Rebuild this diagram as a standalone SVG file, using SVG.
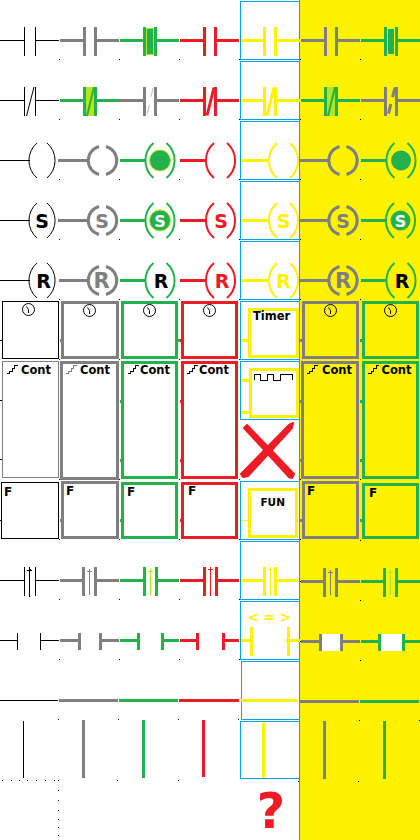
<svg xmlns="http://www.w3.org/2000/svg" xmlns:xlink="http://www.w3.org/1999/xlink" width="420" height="840" viewBox="0 0 420 840">
<style>
.k,.v,.g,.r,.y,.kv{fill:none}
.k{stroke:#000;stroke-width:1}
.kv{stroke:#7f7f7f;stroke-width:1}
.v{stroke:#7f7f7f;stroke-width:3}
.g{stroke:#22b14c;stroke-width:3}
.r{stroke:#ed1c24;stroke-width:3}
.y{stroke:#fff200;stroke-width:3}
.lb{fill:none;stroke:#00a2e8;stroke-width:1;shape-rendering:crispEdges}
.c{shape-rendering:crispEdges}
.n2{stroke-width:2}
.n1{stroke-width:1}
.w{fill:#fff;stroke:none}
.lg{fill:#b5e61d;stroke:none}
text{font-family:"DejaVu Sans","Liberation Sans",sans-serif;font-weight:700}
.cs{font-size:19px;text-anchor:middle}
.cl{font-size:21px;text-anchor:middle}
.lb1{font-size:11.5px;fill:#000}
.lbf{font-size:12px;fill:#000}
.clk{fill:none;stroke:#000;stroke-width:1}
</style>
<defs>
<path id="coilK" d="M-5-17.5A23 23 0 0 0-5 17.5M5-17.5A23 23 0 0 1 5 17.5"/>
<path id="coilC" d="M-6.5-17.5A23 23 0 0 0-6.5 17.5M6.5-17.5A23 23 0 0 1 6.5 17.5"/>
<path id="coilV" d="M-3.5-14A14.5 14.5 0 0 0-3.5 14M3.5-14A14.5 14.5 0 0 1 3.5 14"/>
<g id="clock" class="clk"><circle r="6"/><path d="M-2-3L0 0V3.5"/></g>
<path id="step" d="M0 8H3V5.5H5.5V3H8V0H11"/>
</defs>

<rect id="yellow-panel" x="300" y="0" width="120" height="840" fill="#fff200"/>

<g id="palette-frames">
<rect class="lb" x="240.5" y="1.5" width="59" height="58"/>
<rect class="lb" x="240.5" y="61.5" width="59" height="58"/>
<rect class="lb" x="240.5" y="121.5" width="59" height="58"/>
<rect class="lb" x="240.5" y="181.5" width="59" height="58"/>
<rect class="lb" x="240.5" y="241.5" width="59" height="58"/>
<rect class="lb" x="240.5" y="301.5" width="59" height="58"/>
<rect class="lb" x="240.5" y="361.5" width="59" height="58"/>
<rect class="lb" x="240.5" y="481.5" width="59" height="58"/>
<rect class="lb" x="240.5" y="541.5" width="59" height="58"/>
<rect class="lb" x="240.5" y="601.5" width="59" height="58"/>
<rect class="lb" x="241.5" y="661.5" width="58" height="58"/>
<rect class="lb" x="240.5" y="721.5" width="59" height="57"/>
<path class="lb" d="M299.5 0V840"/>
</g>

<g id="connectors" class="c">
<path class="k" d="M0 40.5H25M36 40.5H59M0 100.5H25M36 100.5H59M0 160.5H30M0 220.5H30M0 280.5H30M0 340.5H2M0 400.5H2M0 459.5H2M0 520.5H1M0 580.5H25M36 580.5H59M0 640.5H17M41 640.5H59M0 700.5H58"/>
<path class="v" d="M60 40.5H83M97 40.5H119M118 100.5H143M157 100.5H179M58 160.5H88M58 220.5H88M59 280.5H88M60 340.5H62M60 401.5H62M60 460.5H62M60 520.5H62M60 580.5H82M97 580.5H119M60 640.5H78M102 640.5H119M59 700.5H118"/>
<path class="g" d="M120 40.5H143M157 40.5H179M60 100.5H83M97 100.5H118M120 160.5H146M120 220.5H146M120 280.5H146M120 401.5H122M120 460.5H122M120 520.5H122M178 340.5H181M120 580.5H143M158 580.5H179M120 640.5H137M164 640.5H179M119 700.5H178"/>
<path class="r" d="M180 40.5H203M217 40.5H239M180 100.5H203M217 100.5H239M180 160.5H206M180 220.5H206M180 280.5H206M180 340.5H182M180 401.5H182M180 460.5H182M180 520.5H182M180 580.5H203M218 580.5H239M180 640.5H196M225 640.5H239M179 700.5H239"/>
<path class="y" d="M241 40.5H263M277 40.5H300M241 100.5H263M277 100.5H300M241 160.5H270M241 220.5H270M241 280.5H270M241 340.5H248M241 380.5H249M241 412.5H249M241 580.5H263M277 580.5H298M241 640.5H250M286 640.5H300M241 700.5H298"/>
<path class="y n1" d="M241 520.5H248"/>
<path class="v" d="M301 40.5H324M338 40.5H360M361 100.5H384M398 100.5H420M300 160.5H329M300 220.5H329M300 280.5H329M300 340.5H303M300 401.5H302M300 460.5H302M300 520.5H302M301 581.5H323M338 581.5H360M301 641.5H319M343 641.5H360M300 701.5H359"/>
<path class="g" d="M361 40.5H384M398 40.5H420M301 100.5H324M338 100.5H360M361 160.5H387M361 220.5H387M361 280.5H387M360 340.5H363M360 401.5H363M360 460.5H363M360 520.5H363M361 581.5H383M398 581.5H420M361 641.5H378M405 641.5H420M360 701.5H419"/>
</g>

<g id="row-contact-no">
<g id="no-black" class="k c"><path d="M24.5 27V56M35.5 27V56"/></g>
<g id="no-gray" class="v c"><path d="M84.5 27V56M95.5 27V56"/></g>
<g id="no-green" class="g c"><path d="M144.5 27V56M155.5 27V56"/><rect x="146.5" y="28.5" width="7" height="26" fill="#22b14c" stroke="#b5e61d" stroke-width="1"/></g>
<g id="no-red" class="r c"><path d="M204.5 27V56M215.5 27V56"/></g>
<g id="no-yellow" class="y c"><path d="M264.5 27V56M275.5 27V56"/></g>
<g id="no-gray-y" class="v c"><path d="M325.5 27V56M336.5 27V56"/></g>
<g id="no-green-y" class="g c"><path d="M385.5 27V56M396.5 27V56"/><rect x="388" y="29" width="6" height="25" fill="#22b14c" stroke="none"/></g>
</g>

<g id="row-contact-nc">
<g id="nc-black" class="k"><path class="c" d="M24.5 87V116M35.5 87V116"/><path d="M34 87L26.5 116"/></g>
<g id="nc-green" class="g"><rect class="lg c" x="85" y="87" width="11" height="29"/><path class="c" d="M84.5 87V116M95.5 87V116"/><path class="n2" d="M94 87L87 116"/></g>
<g id="nc-gray" class="v"><path class="c" d="M144.5 87V116M155.5 87V116"/><path stroke="#bdbdbd" stroke-width="1" stroke-dasharray="9 8" d="M153 88L147 115"/></g>
<g id="nc-red" class="r"><path class="c" d="M204.5 87V116M215.5 87V116"/><path d="M214 87.5L207 115.5"/></g>
<g id="nc-yellow" class="y"><path class="c" d="M264.5 87V116M275.5 87V116"/><path d="M274 87.5L267 115.5"/></g>
<g id="nc-green-y" class="g"><rect class="lg c" x="326" y="87" width="11" height="29"/><path class="c" d="M325.5 87V116M336.5 87V116"/><path class="n2" d="M335 87L328 116"/></g>
<g id="nc-gray-y" class="v"><path class="c" d="M385.5 87V116M396.5 87V116"/><path stroke-dasharray="10 7" d="M395 87.5L388 115.5"/></g>
</g>

<g id="row-coil">
<use id="coil-black" class="k" href="#coilK" x="42" y="160.5"/>
<use id="coil-gray" class="v" href="#coilV" x="102.5" y="160.5"/>
<g id="coil-green"><use class="g n2" href="#coilC" x="160" y="160.5"/><circle cx="160" cy="160.5" r="10.5" fill="#22b14c" stroke="#b5e61d"/></g>
<use id="coil-red" class="r n2" href="#coilC" x="220.5" y="160.5"/>
<use id="coil-yellow" class="y n2" href="#coilC" x="283.5" y="160.5"/>
<use id="coil-gray-y" class="v" href="#coilV" x="343" y="160.5"/>
<g id="coil-green-y"><use class="g n2" href="#coilC" x="401" y="160.5"/><circle cx="401" cy="160.5" r="10" fill="#22b14c"/></g>
</g>

<g id="row-set">
<g id="set-black"><use class="k" href="#coilK" x="42" y="220.5"/><text class="cs" x="42" y="227.5" fill="#000">S</text></g>
<g id="set-gray"><use class="v" href="#coilV" x="102.5" y="220.5"/><text class="cs" x="102" y="227.5" fill="#7f7f7f">S</text></g>
<g id="set-green"><use class="g n2" href="#coilC" x="160" y="220.5"/><circle cx="160" cy="220.5" r="10.5" fill="#22b14c" stroke="#b5e61d"/><text class="cs" x="160" y="226.5" fill="#fff" font-size="17" style="font-size:16px">S</text></g>
<g id="set-red"><use class="r n2" href="#coilC" x="220.5" y="220.5"/><text class="cs" x="221" y="227.5" fill="#ed1c24">S</text></g>
<g id="set-yellow"><use class="y n2" href="#coilC" x="283.5" y="220.5"/><text class="cs" x="283.5" y="227.5" fill="#fff200">S</text></g>
<g id="set-gray-y"><use class="v" href="#coilV" x="343" y="220.5"/><text class="cs" x="343" y="227.5" fill="#7f7f7f">S</text></g>
<g id="set-green-y"><use class="g n2" href="#coilC" x="400.5" y="220.5"/><circle cx="400.5" cy="220.5" r="10" fill="#22b14c"/><text class="cs" x="400.5" y="226.5" fill="#fff" style="font-size:16px">S</text></g>
</g>

<g id="row-reset">
<g id="reset-black"><use class="k" href="#coilK" x="42" y="280.5"/><text class="cs" x="43.5" y="287.5" fill="#000">R</text></g>
<g id="reset-gray"><use class="v" href="#coilV" x="102.5" y="280.5"/><text class="cl" x="101.5" y="288" fill="#7f7f7f">R</text></g>
<g id="reset-green"><use class="g n2" href="#coilC" x="160" y="280.5"/><text class="cs" x="161" y="287.5" fill="#000">R</text></g>
<g id="reset-red"><use class="r n2" href="#coilC" x="220.5" y="280.5"/><text class="cs" x="222" y="287.5" fill="#ed1c24">R</text></g>
<g id="reset-yellow"><use class="y n2" href="#coilC" x="283.5" y="280.5"/><text class="cs" x="283.5" y="287.5" fill="#fff200">R</text></g>
<g id="reset-gray-y"><use class="v" href="#coilV" x="343" y="280.5"/><text class="cl" x="343" y="288" fill="#7f7f7f">R</text></g>
<g id="reset-green-y"><use class="g n2" href="#coilC" x="401" y="280.5"/><text class="cs" x="402" y="287.5" fill="#000">R</text></g>
</g>

<g id="row-timer">
<g id="timer-black"><rect class="k c" x="2.5" y="301.5" width="56" height="57"/><use href="#clock" x="28.5" y="309.5"/></g>
<g id="timer-gray"><rect class="v c" x="62.5" y="302.5" width="55" height="55"/><use href="#clock" x="89.5" y="310.5"/></g>
<g id="timer-green"><rect class="g c" x="122.5" y="302.5" width="54" height="55"/><use href="#clock" x="149.5" y="310.5"/></g>
<g id="timer-red"><rect class="r c" x="182.5" y="302.5" width="54" height="55"/><use href="#clock" x="209.5" y="310.5"/></g>
<g id="timer-yellow"><rect class="y c" x="249.5" y="309.5" width="48" height="47"/><text class="lb1" x="253" y="320">Timer</text></g>
<g id="timer-gray-y"><rect class="v c" x="303.5" y="302.5" width="54" height="55"/><use href="#clock" x="330.5" y="310.5"/></g>
<g id="timer-green-y"><rect class="g c" x="363.5" y="302.5" width="54" height="55"/><use href="#clock" x="390.5" y="310.5"/></g>
</g>

<g id="row-counter">
<g id="cont-black"><rect class="kv c" x="2.5" y="361.5" width="56" height="116"/><use class="k c" href="#step" x="6.5" y="365.5"/><text class="lb1" x="21" y="373.5">Cont</text></g>
<g id="cont-gray"><rect class="v c" x="61.5" y="362.5" width="56" height="116" /><use class="kv c" href="#step" x="65.5" y="365.5"/><text class="lb1" x="80" y="373.5">Cont</text></g>
<g id="cont-green"><rect class="g c" x="122.5" y="362.5" width="54" height="115"/><use class="k c" href="#step" x="127.5" y="365.5"/><text class="lb1" x="140" y="373.5">Cont</text></g>
<g id="cont-red"><rect class="r c" x="182.5" y="362.5" width="54" height="115"/><use class="k c" href="#step" x="186.5" y="365.5"/><text class="lb1" x="199" y="373.5">Cont</text></g>
<g id="wave-yellow"><rect class="y c" x="250.5" y="369.5" width="47" height="47"/><path class="k c" d="M254.5 380V374.5H260.5V380.5H267.5V374.5H273.5V380.5H280.5V374.5H292.5V380"/></g>
<g id="cross" fill="#ed1c24" stroke="#ed1c24" stroke-linejoin="round"><path d="M244 428L247 425L294 474L292 478L289 477Z" stroke-width="2"/><path d="M289 425L293 423L292 428L248 476L243 477L241 474Z" stroke-width="2"/></g>
<g id="cont-gray-y"><rect class="v c" x="302.5" y="362.5" width="55" height="115"/><use class="k c" href="#step" x="306.5" y="365.5"/><text class="lb1" x="322" y="373.5">Cont</text></g>
<g id="cont-green-y"><rect class="g c" x="363.5" y="362.5" width="54" height="115"/><use class="k c" href="#step" x="368" y="365.5"/><text class="lb1" x="381.5" y="373.5">Cont</text></g>
</g>

<g id="row-function">
<g id="fun-black"><rect class="k c" x="1.5" y="482.5" width="57" height="56"/><text class="lbf" x="4" y="496">F</text></g>
<g id="fun-gray"><rect class="v c" x="62.5" y="482.5" width="55" height="55"/><text class="lbf" x="66" y="495">F</text></g>
<g id="fun-green"><rect class="g c" x="122.5" y="483.5" width="54" height="54"/><text class="lbf" x="127" y="496">F</text></g>
<g id="fun-red"><rect class="r c" x="182.5" y="483.5" width="54" height="54"/><text class="lbf" x="188" y="495">F</text></g>
<g id="fun-yellow"><rect class="y c" x="249.5" y="489.5" width="47" height="47"/><text x="272.7" y="506" text-anchor="middle" font-size="10.5" style="font-size:10.5px">FUN</text></g>
<g id="fun-gray-y"><rect class="v c" x="303.5" y="482.5" width="54" height="55"/><text class="lbf" x="307" y="495">F</text></g>
<g id="fun-green-y"><rect class="g c" x="363.5" y="484.5" width="54" height="53"/><text class="lbf" x="369" y="497">F</text></g>
</g>

<g id="row-edge">
<g id="edge-black" class="k c"><path d="M24.5 567V596M35.5 567V596"/><path class="n1" stroke-width="1" d="M29.5 567V597" style="stroke-width:1.5"/><path d="M27 570.5H32M28.5 569.5H30.5"/></g>
<g id="edge-gray" class="v c"><path d="M83.5 567V596M95.5 567V596"/><path class="n1" d="M89.5 569V595M87 571.5H92"/></g>
<g id="edge-green" class="g c"><path d="M144.5 567V596M156.5 567V596"/><path stroke="#b5e61d" stroke-width="1" style="stroke:#b5e61d;stroke-width:1" d="M150.5 569V595M148 571.5H153"/></g>
<g id="edge-red" class="r c"><path d="M204.5 567V596M216.5 567V596"/><path class="n1" d="M210.5 567V596M208 569.5H213"/></g>
<g id="edge-yellow" class="y c"><path d="M264.5 567V596M275.5 567V596"/><path class="n1" d="M270.5 567V596M268 569.5H273"/></g>
<g id="edge-gray-y" class="v c"><path d="M324.5 568V597M336.5 568V597"/><path class="n1" d="M330.5 570V595M328 572.5H333"/></g>
<g id="edge-green-y" class="g c"><path d="M384.5 568V597M396.5 568V597"/><path style="stroke:#b5e61d;stroke-width:1" d="M390.5 570V595M388 572.5H393"/></g>
</g>

<g id="row-open">
<g id="open-black" class="k c"><path d="M17.5 633V650M40.5 633V650"/></g>
<g id="open-gray" class="v c"><path d="M79.5 633V650M100.5 633V650"/></g>
<g id="open-green" class="g c"><path d="M138.5 633V650M162.5 633V650"/></g>
<g id="open-red" class="r c"><path d="M197.5 633V650M223.5 633V650"/></g>
<g id="compare-yellow"><path class="y c" d="M251.5 627V656M288.5 627V656"/><text x="269.5" y="622" text-anchor="middle" fill="#fff200" style="font-size:13.5px">&lt; = &gt;</text></g>
<g id="open-gray-y"><rect class="w c" x="322" y="634" width="18" height="17"/><path class="v c" d="M320.5 634V651M341.5 634V651"/></g>
<g id="open-green-y"><rect class="w c" x="381" y="634" width="21" height="17"/><path class="g c" d="M379.5 634V651M403.5 634V651"/></g>
</g>

<g id="row-vertical">
<g id="vert-black" class="k c"><path d="M23.5 721V778"/></g>
<g id="vert-gray" class="v c"><path d="M83.5 720V778"/></g>
<g id="vert-green" class="g c"><path d="M143.5 720V778"/></g>
<g id="vert-red" class="r c"><path d="M203.5 720V777"/></g>
<g id="vert-yellow" class="y c"><path d="M263.5 723V778"/></g>
<g id="vert-gray-y" class="v c"><path d="M324.5 721V779"/></g>
<g id="vert-green-y" class="g c"><path d="M384.5 721V779"/></g>
</g>

<g id="unknown"><text x="271" y="828" text-anchor="middle" fill="#ed1c24" style="font-size:49px">?</text></g>

<path id="grid-dots" class="c" fill="#000" d="M59 59h1v1h-1zM119 59h1v1h-1zM179 59h1v1h-1zM239 59h1v1h-1zM300 59h1v1h-1zM360 59h1v1h-1zM59 119h1v1h-1zM119 119h1v1h-1zM179 119h1v1h-1zM239 119h1v1h-1zM300 119h1v1h-1zM360 119h1v1h-1zM59 179h1v1h-1zM119 179h1v1h-1zM179 179h1v1h-1zM239 179h1v1h-1zM300 179h1v1h-1zM360 179h1v1h-1zM59 239h1v1h-1zM119 239h1v1h-1zM179 239h1v1h-1zM239 239h1v1h-1zM300 239h1v1h-1zM360 239h1v1h-1zM59 299h1v1h-1zM119 299h1v1h-1zM179 299h1v1h-1zM239 299h1v1h-1zM300 299h1v1h-1zM360 299h1v1h-1zM59 359h1v1h-1zM119 359h1v1h-1zM179 359h1v1h-1zM239 359h1v1h-1zM59 479h1v1h-1zM119 479h1v1h-1zM179 479h1v1h-1zM239 479h1v1h-1zM300 479h1v1h-1zM360 479h1v1h-1zM59 539h1v1h-1zM119 539h1v1h-1zM179 539h1v1h-1zM239 539h1v1h-1zM300 539h1v1h-1zM360 540h1v1h-1zM59 599h1v1h-1zM119 599h1v1h-1zM179 599h1v1h-1zM239 599h1v1h-1zM300 581h1v1h-1zM360 600h1v1h-1zM59 659h1v1h-1zM119 659h1v1h-1zM179 659h1v1h-1zM239 659h1v1h-1zM300 641h1v1h-1zM360 660h1v1h-1zM58 719h1v1h-1zM118 719h1v1h-1zM178 719h1v1h-1zM238 719h1v1h-1zM359 720h1v1h-1zM419 720h1v1h-1zM2 780h1v1h-1zM11 780h1v1h-1zM19 780h1v1h-1zM27 780h1v1h-1zM36 780h1v1h-1zM45 780h1v1h-1zM54 780h1v1h-1zM58 780h1v1h-1zM117 780h1v1h-1zM178 780h1v1h-1zM298 781h1v1h-1zM358 781h1v1h-1zM58 790h1v1h-1zM58 800h1v1h-1zM58 810h1v1h-1zM58 819h1v1h-1zM58 827h1v1h-1zM58 835h1v1h-1z"/>
</svg>
